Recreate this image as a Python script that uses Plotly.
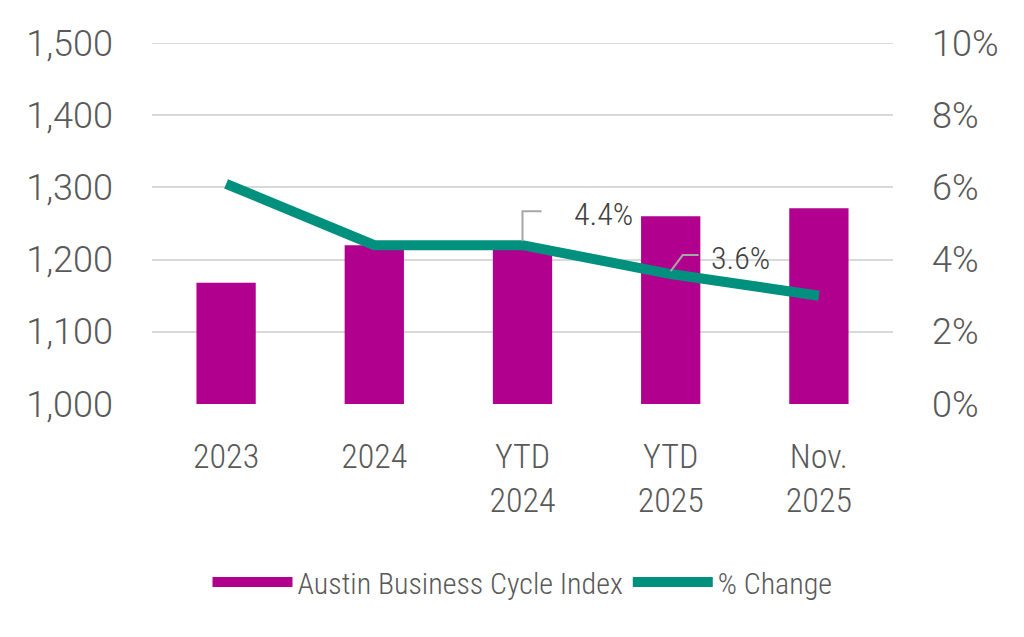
import plotly.graph_objects as go

categories = ["2023", "2024", "YTD<br>2024", "YTD<br>2025", "Nov.<br>2025"]
index_values = [1168, 1220, 1215, 1260, 1271]
pct_change = [6.1, 4.4, 4.4, 3.6, 3.0]
labeled_points = [2, 3]  # indices with data labels
left_ticks = [1000, 1100, 1200, 1300, 1400, 1500]
right_ticks = [0, 2, 4, 6, 8, 10]
series_names = ["Austin Business Cycle Index", "% Change"]

BAR_COLOR = "#B1008D"
LINE_COLOR = "#00917E"
TEXT_COLOR = "#595959"
GRID_COLOR = "#D9D9D9"
NARROW = "Roboto Condensed, sans-serif"
TICKFONT = "Roboto, sans-serif"

fig = go.Figure()
fig.add_trace(go.Bar(
    x=categories, y=index_values, name=series_names[0], showlegend=False,
    marker=dict(color=BAR_COLOR, line=dict(width=0)), yaxis="y",
))
# legend key for the bar series drawn as a wide block
fig.add_trace(go.Scatter(
    x=[None], y=[None], name=series_names[0], mode="lines",
    line=dict(color=BAR_COLOR, width=26), yaxis="y", hoverinfo="skip",
))
fig.add_trace(go.Scatter(
    x=categories, y=pct_change, name=series_names[1], mode="lines",
    line=dict(color=LINE_COLOR, width=10), yaxis="y2",
))

label_offsets = {2: dict(dx=81, dy=31, path="M0,4 L0,34 L19,34"),
                 3: dict(dx=70, dy=16, path="M0,3 L12,19 L28,19")}
for i in labeled_points:
    off = label_offsets[i]
    fig.add_annotation(
        x=categories[i], y=pct_change[i], xref="x", yref="y2",
        text=f"{pct_change[i]:.1f}%", showarrow=False,
        xshift=off["dx"], yshift=off["dy"],
        font=dict(family=NARROW, size=32, color="#404040", weight=300),
    )
    fig.add_shape(
        type="path", xref="x", yref="y2",
        xsizemode="pixel", ysizemode="pixel",
        xanchor=categories[i], yanchor=pct_change[i],
        path=off["path"], line=dict(color="#A6A6A6", width=2),
    )

fig.add_hline(y=left_ticks[-1], line=dict(color=GRID_COLOR, width=2), layer="below")

fig.update_layout(
    width=1016, height=629,
    margin=dict(l=144, r=131, t=35, b=233, autoexpand=False),
    paper_bgcolor="white", plot_bgcolor="white",
    bargap=0.6,
    showlegend=True,
    legend=dict(
        orientation="h", x=0.5, xanchor="center",
        yref="container", y=0.0875, yanchor="middle",
        font=dict(family=NARROW, size=30, color=TEXT_COLOR, weight=300),
        itemwidth=80, traceorder="normal",
    ),
    xaxis=dict(
        showgrid=False, showline=False, zeroline=False, automargin=False,
        tickfont=dict(family=NARROW, size=34, color=TEXT_COLOR, weight=300),
        ticklabelstandoff=29,
    ),
    yaxis=dict(
        range=[left_ticks[0], left_ticks[-1]], tickvals=left_ticks,
        ticktext=[f"{v:,}" for v in left_ticks], automargin=False,
        showgrid=True, gridcolor=GRID_COLOR, gridwidth=2,
        zeroline=False, showline=False,
        tickfont=dict(family=TICKFONT, size=36, color=TEXT_COLOR, weight=300),
        ticklabelstandoff=38,
    ),
    yaxis2=dict(
        range=[right_ticks[0], right_ticks[-1]], tickvals=right_ticks,
        ticktext=[f"{v}%" for v in right_ticks],
        overlaying="y", side="right", automargin=False,
        showgrid=False, zeroline=False, showline=False,
        tickfont=dict(family=TICKFONT, size=36, color=TEXT_COLOR, weight=300),
        ticklabelstandoff=38,
    ),
)

fig.write_html("out.html")
